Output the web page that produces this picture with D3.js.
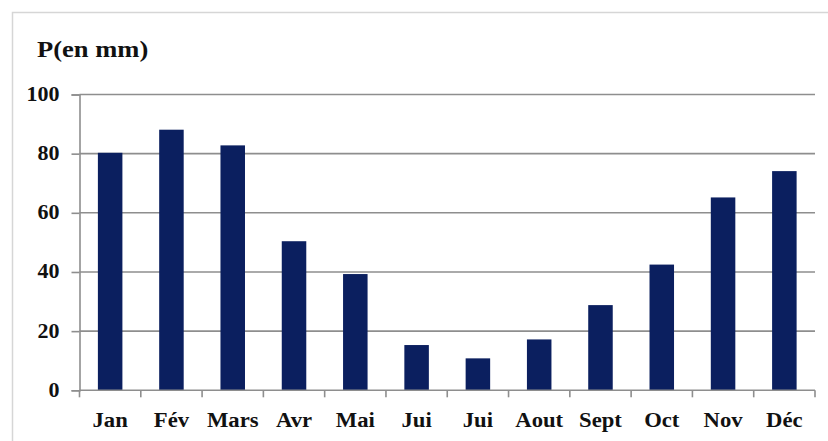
<!DOCTYPE html>
<html>
<head>
<meta charset="utf-8">
<script src="https://cdn.jsdelivr.net/npm/d3@7"></script>
<style>
  html, body { margin: 0; padding: 0; background: #ffffff; }
  svg { display: block; }
  text { font-family: "Liberation Serif", "Times New Roman", serif; font-weight: bold; fill: #111111; }
</style>
</head>
<body>
<svg id="chart" width="828" height="441"></svg>
<script>
// Monthly precipitation (mm)
const months = ["Jan", "Fév", "Mars", "Avr", "Mai", "Jui", "Jui", "Aout", "Sept", "Oct", "Nov", "Déc"];
const precipitation = [80.3, 88.1, 82.8, 50.4, 39.3, 15.3, 10.8, 17.2, 28.8, 42.5, 65.2, 74.1];
const yTicks = [0, 20, 40, 60, 80, 100];
const yTitle = "P(en mm)";

const svg = d3.select("#chart");
const W = 828, H = 441;
const plot = { left: 79.5, right: 815, top: 94.5, bottom: 390.3 };
const gridColor = "#8e8e8e";
const barColor = "#0b1f5f";
const wide = 1.1; // horizontal stretch of the bold serif lettering

// Outer frame of the chart area
svg.append("rect")
  .attr("x", 12.5).attr("y", 12.5)
  .attr("width", W).attr("height", H)
  .attr("fill", "none").attr("stroke", "#d6d6d6").attr("stroke-width", 1.5);

// Index-based band scale, since two months share the label "Jui"
const x = d3.scaleBand()
  .domain(d3.range(months.length))
  .range([plot.left, plot.right])
  .paddingInner(0.6).paddingOuter(0.3);

const y = d3.scaleLinear().domain([0, 100]).range([plot.bottom, plot.top]);

// Horizontal gridlines
svg.append("g")
  .selectAll("line")
  .data(yTicks.filter(d => d > 0))
  .join("line")
  .attr("x1", plot.left).attr("x2", plot.right)
  .attr("y1", d => y(d)).attr("y2", d => y(d))
  .attr("stroke", gridColor).attr("stroke-width", 1.6);

// Bars
svg.append("g")
  .selectAll("rect")
  .data(precipitation)
  .join("rect")
  .attr("x", (d, i) => x(i))
  .attr("y", d => y(d))
  .attr("width", x.bandwidth())
  .attr("height", d => y(0) - y(d))
  .attr("fill", barColor);

// Y axis
const yPad = 20;
const yAxis = svg.append("g")
  .attr("transform", `translate(${plot.left},0)`)
  .call(d3.axisLeft(y).tickValues(yTicks).tickSize(8).tickPadding(yPad - 8).tickFormat(d3.format("d")));
yAxis.select(".domain").attr("stroke", gridColor).attr("stroke-width", 1.6);
yAxis.selectAll(".tick line").attr("stroke", gridColor).attr("stroke-width", 1.6);
yAxis.selectAll(".tick text")
  .attr("font-size", 20)
  .attr("x", -yPad / wide)
  .attr("dy", "0.3em")
  .attr("transform", `scale(${wide},1)`)
  .attr("fill", "#111");

// X axis: line along zero, ticks at category boundaries
const boundaries = d3.range(months.length + 1).map(i => plot.left + i * (plot.right - plot.left) / months.length);
svg.append("line")
  .attr("x1", plot.left).attr("x2", plot.right)
  .attr("y1", y(0)).attr("y2", y(0))
  .attr("stroke", gridColor).attr("stroke-width", 1.6);
svg.append("g")
  .selectAll("line")
  .data(boundaries)
  .join("line")
  .attr("x1", d => d).attr("x2", d => d)
  .attr("y1", y(0)).attr("y2", y(0) + 7)
  .attr("stroke", gridColor).attr("stroke-width", 1.6);

svg.append("g")
  .selectAll("text")
  .data(months)
  .join("text")
  .attr("transform", (d, i) => `translate(${x(i) + x.bandwidth() / 2},426.5) scale(1.08,1)`)
  .attr("text-anchor", "middle")
  .attr("font-size", 21)
  .text(d => d);

// Axis title
svg.append("text")
  .attr("transform", "translate(37,57) scale(1.13,1)")
  .attr("font-size", 23.5)
  .text(yTitle);
</script>
</body>
</html>
